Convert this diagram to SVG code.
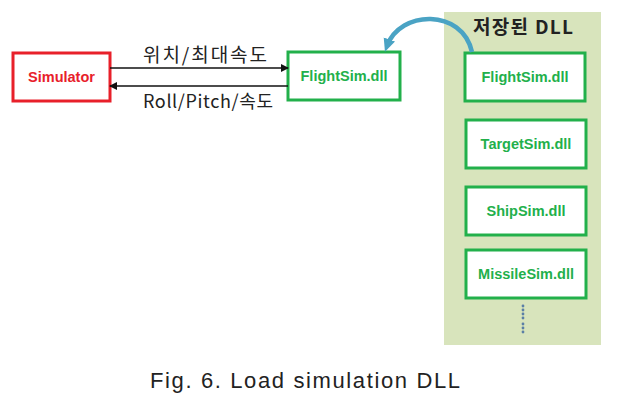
<svg xmlns="http://www.w3.org/2000/svg" width="620" height="400" viewBox="0 0 620 400">
<defs>
<style>
.box{fill:#fff;stroke:#22b04b;stroke-width:3}
.lbl{font-family:"Liberation Sans",Arial,sans-serif;font-weight:bold;font-size:14.5px;fill:#22b04b;text-anchor:middle}
.ko{font-family:"Noto Sans CJK KR","Liberation Sans",sans-serif;fill:#222}
.conn{stroke:#111;stroke-width:1.3;fill:none}
</style>
<marker id="ah" markerWidth="8" markerHeight="8" refX="7" refY="4" orient="auto" markerUnits="userSpaceOnUse">
<path d="M0,0 L8,4 L0,8 Z" fill="#111"/>
</marker>
<marker id="ab" markerWidth="14" markerHeight="14" refX="7" refY="7" orient="auto" markerUnits="userSpaceOnUse">
<path d="M0,1 L13,7 L0,13 Z" fill="#4aa3c4"/>
</marker>
</defs>
<rect x="444" y="12" width="157" height="333" fill="#d8e4bc"/>
<text x="473" y="34" font-family="Noto Sans CJK KR,sans-serif" font-weight="bold" font-size="19" fill="#222" textLength="100" lengthAdjust="spacing">저장된 DLL</text>
<g id="simulator">
<rect x="13" y="53" width="97" height="48" fill="#fff" stroke="#e8202a" stroke-width="3"/>
<text x="61.5" y="82" class="lbl" style="fill:#e8202a">Simulator</text>
</g>
<g id="flightsim-loaded">
<rect x="288" y="52" width="112" height="48" class="box"/>
<text x="344" y="81" class="lbl">FlightSim.dll</text>
</g>
<g id="stored-flightsim">
<rect x="465" y="53" width="120" height="48" class="box"/>
<text x="525" y="82" class="lbl">FlightSim.dll</text>
</g>
<g id="stored-targetsim">
<rect x="466" y="120" width="120" height="48" class="box"/>
<text x="526" y="149" class="lbl">TargetSim.dll</text>
</g>
<g id="stored-shipsim">
<rect x="466" y="187" width="120" height="48" class="box"/>
<text x="526" y="216" class="lbl">ShipSim.dll</text>
</g>
<g id="stored-missilesim">
<rect x="466" y="250" width="120" height="48" class="box"/>
<text x="526" y="279" class="lbl">MissileSim.dll</text>
</g>
<g id="ellipsis" fill="#5b7fa6">
<circle cx="523" cy="306" r="1.4"/><circle cx="523" cy="310" r="1.4"/><circle cx="523" cy="314" r="1.4"/><circle cx="523" cy="318" r="1.4"/>
<circle cx="523" cy="324" r="1.4"/><circle cx="523" cy="328" r="1.4"/><circle cx="523" cy="332" r="1.4"/>
</g>
<g id="connectors">
<line x1="110" y1="68" x2="288" y2="68" class="conn" marker-end="url(#ah)"/>
<line x1="288" y1="86" x2="110" y2="86" class="conn" marker-end="url(#ah)"/>
<path d="M472,52 C462,8 400,10 387,46" fill="none" stroke="#4aa3c4" stroke-width="4.5" marker-end="url(#ab)"/>
</g>
<text x="143" y="62" class="ko" font-size="19" textLength="124" lengthAdjust="spacing">위치/최대속도</text>
<text x="143" y="108" class="ko" font-size="18" textLength="130" lengthAdjust="spacing">Roll/Pitch/속도</text>
<text x="150" y="388" font-family="Liberation Sans,Arial,sans-serif" font-size="22" fill="#222" textLength="310" lengthAdjust="spacing">Fig. 6. Load simulation DLL</text>
</svg>
